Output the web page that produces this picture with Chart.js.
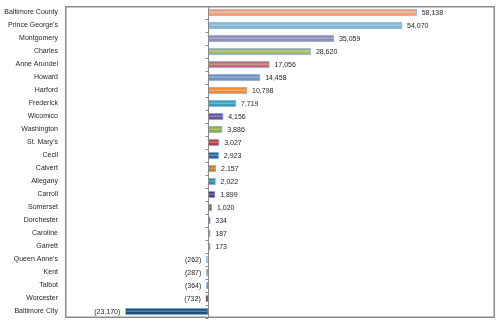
<!DOCTYPE html>
<html>
<head>
<meta charset="utf-8">
<script src="https://cdn.jsdelivr.net/npm/chart.js@4/dist/chart.umd.min.js"></script>
<style>
  html, body { margin: 0; padding: 0; background: #ffffff; }
  #wrap { width: 500px; height: 325px; }
</style>
</head>
<body>
<div id="wrap"><canvas id="chart" width="500" height="325"></canvas></div>
<script>
// Net change by jurisdiction
const categories = [
  "Baltimore County", "Prince George\u2019s", "Montgomery", "Charles", "Anne Arundel",
  "Howard", "Harford", "Frederick", "Wicomico", "Washington", "St. Mary\u2019s",
  "Cecil", "Calvert", "Allegany", "Carroll", "Somerset", "Dorchester", "Caroline",
  "Garrett", "Queen Anne\u2019s", "Kent", "Talbot", "Worcester", "Baltimore City"
];
const netChange = [
  58138, 54070, 35059, 28620, 17056,
  14458, 10798, 7719, 4156, 3886, 3027,
  2923, 2157, 2022, 1899, 1020, 334, 187,
  173, -262, -287, -364, -732, -23170
];
const barColors = [
  "#F0A47C", "#82B8D4", "#9189B6", "#9DB56C", "#C46A6A",
  "#7290C2", "#EE8A34", "#3A9EB8", "#6A4FA0", "#8CB040", "#BE3E3E",
  "#2F62A2", "#C9782E", "#2F8CA4", "#4F3B82", "#5F7C2E", "#7C2E2E", "#5B86C2",
  "#5B86C2", "#8DB4E2", "#4F81BD", "#3B6A92", "#6E2020", "#1F4E7C"
];
const axisMin = -40000;
const axisMax = 80000;

function fmt(v) {
  const s = Math.abs(v).toLocaleString("en-US");
  return v < 0 ? "(" + s + ")" : s;
}

const frame = {
  id: "frame",
  afterDatasetsDraw(chart) {
    const { ctx, chartArea: a, scales } = chart;
    const x0 = Math.round(scales.x.getPixelForValue(0)) + 0.5;
    const meta = chart.getDatasetMeta(0);
    ctx.save();
    // soft highlight across the middle of each bar
    meta.data.forEach((bar) => {
      const l = Math.min(bar.x, bar.base), w = Math.abs(bar.x - bar.base);
      if (w > 3) {
        ctx.fillStyle = "rgba(255,255,255,0.28)";
        ctx.fillRect(l + 1, bar.y - 1, w - 2, 1.5);
      }
    });
    // plot box
    ctx.strokeStyle = "#8a8a8a";
    ctx.lineWidth = 1.5;
    ctx.strokeRect(a.left + 0.75, a.top + 0.75, a.right - a.left - 1.5, a.bottom - a.top - 1.5);
    // zero axis with tick marks between categories
    ctx.lineWidth = 1;
    ctx.strokeStyle = "#8a8a8a";
    ctx.beginPath();
    ctx.moveTo(x0, a.top);
    ctx.lineTo(x0, a.bottom);
    const n = categories.length;
    const step = (a.bottom - a.top) / n;
    for (let k = 0; k <= n; k++) {
      const y = Math.round(a.top + k * step) + 0.5;
      ctx.moveTo(x0 - 3, y);
      ctx.lineTo(x0, y);
    }
    ctx.stroke();
    // value labels
    ctx.font = "7px 'Liberation Sans', Arial, sans-serif";
    ctx.fillStyle = "#1e1e1e";
    ctx.textBaseline = "middle";
    meta.data.forEach((bar, i) => {
      const v = netChange[i];
      if (v >= 0) {
        ctx.textAlign = "left";
        ctx.fillText(fmt(v), Math.max(bar.x, bar.base) + 5, bar.y + 0.5);
      } else {
        ctx.textAlign = "right";
        ctx.fillText(fmt(v), Math.min(bar.x, bar.base) - 5, bar.y + 0.5);
      }
    });
    ctx.restore();
  }
};

new Chart(document.getElementById("chart"), {
  type: "bar",
  data: {
    labels: categories,
    datasets: [{
      data: netChange,
      backgroundColor: barColors,
      borderColor: "#9CC0E6",
      borderWidth: 1,
      borderSkipped: false,
      barThickness: 7,
      minBarLength: 2
    }]
  },
  options: {
    indexAxis: "y",
    responsive: false,
    animation: false,
    layout: { padding: { left: 0, right: 5, top: 6, bottom: 7 } },
    plugins: { legend: { display: false }, tooltip: { enabled: false } },
    scales: {
      x: { min: axisMin, max: axisMax, display: false },
      y: {
        grid: { display: false, drawTicks: true, tickLength: 7 },
        border: { display: false },
        ticks: {
          padding: 0,
          color: "#262626",
          font: { family: "'Liberation Sans', Arial, sans-serif", size: 7 }
        },
        afterFit(scale) { scale.width = 65; }
      }
    }
  },
  plugins: [frame]
});
</script>
</body>
</html>
